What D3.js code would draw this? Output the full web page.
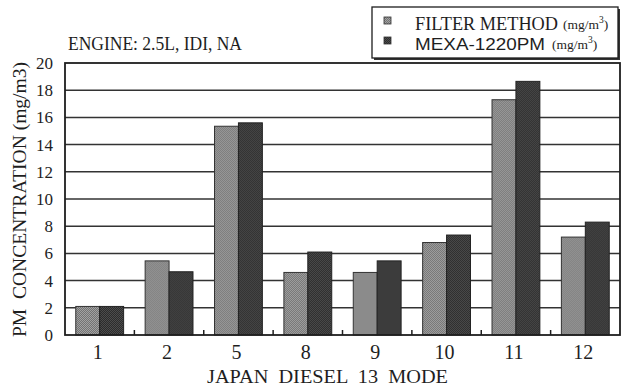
<!DOCTYPE html>
<html>
<head>
<meta charset="utf-8">
<script src="https://cdn.jsdelivr.net/npm/d3@7"></script>
</head>
<body style="margin:0">
<svg id="chart" width="627" height="390" style="display:block;background:#fff"></svg>
<script>
// PM concentration per Japan Diesel 13 mode, two measuring methods
const modes = ["1", "2", "5", "8", "9", "10", "11", "12"];
const filterMethod = [2.1, 5.45, 15.35, 4.6, 4.6, 6.8, 17.3, 7.2];
const mexa1220 = [2.1, 4.65, 15.6, 6.1, 5.45, 7.35, 18.65, 8.3];
const yTicks = [0, 2, 4, 6, 8, 10, 12, 14, 16, 18, 20];

const svg = d3.select("#chart");
const serif = "Times New Roman";
const sans = "Liberation Sans";
const ink = "#1e1e1e";

const plot = { left: 65, right: 620, top: 63, bottom: 335 };

function font(sel, family, size) {
  return sel.style("font-family", `"${family}"`).style("font-size", size + "px");
}

// stippled fills
const defs = svg.append("defs");
function checker(id, a, b) {
  const p = defs.append("pattern").attr("id", id)
    .attr("width", 2).attr("height", 2).attr("patternUnits", "userSpaceOnUse");
  p.append("rect").attr("width", 2).attr("height", 2).attr("fill", a);
  p.append("rect").attr("width", 1).attr("height", 1).attr("fill", b);
  p.append("rect").attr("x", 1).attr("y", 1).attr("width", 1).attr("height", 1).attr("fill", b);
}
checker("fillFilter", "#a2a2a2", "#737373");
checker("fillMexa", "#4c4c4c", "#2c2c2c");

const x = d3.scaleBand().domain(modes).range([plot.left, plot.right]);
const xs = d3.scaleBand().domain(["filter", "mexa"])
  .range([0, x.bandwidth()]).paddingOuter(0.45).paddingInner(0);
const y = d3.scaleLinear().domain([0, 20]).range([plot.bottom, plot.top]);

// horizontal grid
svg.append("g")
  .selectAll("line")
  .data(yTicks.slice(1, -1))
  .join("line")
  .attr("x1", plot.left).attr("x2", plot.right)
  .attr("y1", d => y(d)).attr("y2", d => y(d))
  .attr("stroke", "#333").attr("stroke-width", 1.5);

// bars
const groups = svg.append("g")
  .selectAll("g")
  .data(modes.map((m, i) => ({ m, filter: filterMethod[i], mexa: mexa1220[i] })))
  .join("g")
  .attr("transform", d => `translate(${x(d.m)},0)`);

groups.append("rect")
  .attr("x", xs("filter")).attr("width", xs.bandwidth())
  .attr("y", d => y(d.filter)).attr("height", d => y(0) - y(d.filter))
  .attr("fill", "url(#fillFilter)").attr("stroke", "#333").attr("stroke-width", 1);

groups.append("rect")
  .attr("x", xs("mexa")).attr("width", xs.bandwidth())
  .attr("y", d => y(d.mexa)).attr("height", d => y(0) - y(d.mexa))
  .attr("fill", "url(#fillMexa)").attr("stroke", "#222").attr("stroke-width", 1);

// plot frame
svg.append("rect")
  .attr("x", plot.left).attr("y", plot.top)
  .attr("width", plot.right - plot.left).attr("height", plot.bottom - plot.top)
  .attr("fill", "none").attr("stroke", ink).attr("stroke-width", 1.8);

// category separators along the bottom edge
svg.append("g")
  .selectAll("line")
  .data(modes.slice(1))
  .join("line")
  .attr("x1", d => x(d)).attr("x2", d => x(d))
  .attr("y1", plot.bottom).attr("y2", plot.bottom - 5)
  .attr("stroke", ink).attr("stroke-width", 1.5);

// y axis labels
const yAxis = d3.axisLeft(y).tickValues(yTicks).tickSize(0).tickPadding(12);
const gy = svg.append("g").attr("transform", `translate(${plot.left},0)`).call(yAxis);
gy.select(".domain").remove();
gy.attr("font-family", null).attr("font-size", null);
font(gy.selectAll("text"), serif, 17).attr("fill", ink);

// x axis labels
const xAxis = d3.axisBottom(x).tickSize(0).tickPadding(10);
const gx = svg.append("g").attr("transform", `translate(0,${plot.bottom})`).call(xAxis);
gx.select(".domain").remove();
gx.attr("font-family", null).attr("font-size", null);
font(gx.selectAll("text"), serif, 20).attr("dx", "-2").attr("fill", ink);

function label(sel, txt, size, len, family) {
  return font(sel, family || serif, size)
    .attr("xml:space", "preserve")
    .attr("fill", ink).attr("textLength", len).attr("lengthAdjust", "spacingAndGlyphs")
    .text(txt);
}

// axis titles
label(svg.append("text").attr("x", 207).attr("y", 383),
  "JAPAN  DIESEL  13  MODE", 19.5, 241);

label(svg.append("text").attr("transform", "translate(26,337) rotate(-90)"),
  "PM  CONCENTRATION (mg/m3)", 19, 275);

label(svg.append("text").attr("x", 68).attr("y", 50),
  "ENGINE: 2.5L, IDI, NA", 18, 174);

// legend
const lg = svg.append("g");
lg.append("rect")
  .attr("x", 374).attr("y", 9).attr("width", 246).attr("height", 51)
  .attr("fill", "#333");
lg.append("rect")
  .attr("x", 372).attr("y", 7).attr("width", 246).attr("height", 51)
  .attr("fill", "#fff").attr("stroke", ink).attr("stroke-width", 1.3);

const legendItems = [
  { label: "FILTER METHOD", fill: "url(#fillFilter)", font: serif, size: 18, len: 143, unitX: 563, y: 30 },
  { label: "MEXA-1220PM", fill: "url(#fillMexa)", font: sans, size: 16, len: 130, unitX: 552, y: 50 }
];
legendItems.forEach(it => {
  lg.append("rect")
    .attr("x", 384).attr("y", it.y - 13).attr("width", 7).attr("height", 7)
    .attr("fill", it.fill).attr("stroke", "#333").attr("stroke-width", 0.8);
  label(lg.append("text").attr("x", 415).attr("y", it.y), it.label, it.size, it.len, it.font);
  const u = font(lg.append("text").attr("x", it.unitX).attr("y", it.y - 1), serif, 13.5)
    .attr("fill", ink);
  u.append("tspan").text("(mg/m");
  font(u.append("tspan"), serif, 9.5).attr("dy", -6).text("3");
  u.append("tspan").attr("dy", 6).text(")");
});
</script>
</body>
</html>
